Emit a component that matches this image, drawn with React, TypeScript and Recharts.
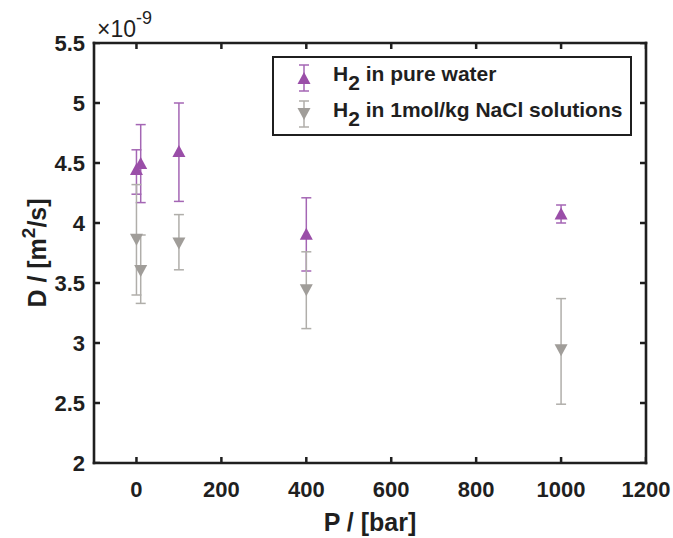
import { ScatterChart, Scatter, XAxis, YAxis, ErrorBar, Legend, ReferenceLine } from 'recharts'

const pressure = [0, 10, 100, 400, 1000]
const pureD = [4.45, 4.5, 4.6, 3.91, 4.08]
const pureErrLow = [0.21, 0.33, 0.42, 0.31, 0.08]
const pureErrHigh = [0.16, 0.32, 0.4, 0.3, 0.07]
const naclD = [3.86, 3.6, 3.83, 3.44, 2.94]
const naclErrLow = [0.46, 0.27, 0.22, 0.32, 0.45]
const naclErrHigh = [0.46, 0.3, 0.24, 0.32, 0.43]
const xTicks = [0, 200, 400, 600, 800, 1000, 1200]
const yTicks = [2, 2.5, 3, 3.5, 4, 4.5, 5, 5.5]
const xDomain = [-100, 1200]
const yDomain = [2, 5.5]

const PURPLE = '#9a4ea8'
const PURPLE_BAR = '#a466b4'
const GREY = '#a09d99'
const GREY_BAR = '#b0aeaa'
const INK = '#1f1f1f'
const FONT = '"Liberation Sans", Arial, Helvetica, sans-serif'

const pure = pressure.map((p, i) => ({ p, d: pureD[i], err: [pureErrLow[i], pureErrHigh[i]] }))
const nacl = pressure.map((p, i) => ({ p, d: naclD[i], err: [naclErrLow[i], naclErrHigh[i]] }))

// tick positions on the four sides of the box
const bottomTicks = xTicks.map(v => ({ p: v, d: yDomain[0] }))
const topTicks = xTicks.map(v => ({ p: v, d: yDomain[1] }))
const leftTicks = yTicks.map(v => ({ p: xDomain[0], d: v }))
const rightTicks = yTicks.map(v => ({ p: xDomain[1], d: v }))

const UpTri = (props: any) => {
  const { cx, cy, fill } = props
  return <polygon points={`${cx - 6.5},${cy + 6} ${cx + 6.5},${cy + 6} ${cx},${cy - 6}`} fill={fill} />
}
const DownTri = (props: any) => {
  const { cx, cy, fill } = props
  return <polygon points={`${cx - 6.5},${cy - 6} ${cx + 6.5},${cy - 6} ${cx},${cy + 6}`} fill={fill} />
}

// inward tick drawn as a thin filled rectangle
const tickMark = (dx: number, dy: number) => (props: any) => {
  const { cx, cy } = props
  const w = dx === 0 ? 2.5 : Math.abs(dx)
  const h = dy === 0 ? 2.5 : Math.abs(dy)
  const x = dx < 0 ? cx + dx : dx === 0 ? cx - 1.25 : cx
  const y = dy < 0 ? cy + dy : dy === 0 ? cy - 1.25 : cy
  return <rect x={x} y={y} width={w} height={h} fill={INK} />
}
const BoxSide = (props: any) => {
  const { x1, y1, x2, y2 } = props
  return <line x1={x1} y1={y1} x2={x2} y2={y2} stroke={INK} strokeWidth={2.6} strokeLinecap="square" />
}

function LeftTick(props: any) {
  const { x, y, payload } = props
  return (
    <text x={x} y={y} dy="0.36em" textAnchor="end" fill={INK} fontSize={22} fontWeight={700} fontFamily={FONT}>
      {String(payload.value)}
    </text>
  )
}
function BottomTick(props: any) {
  const { x, y, payload } = props
  return (
    <text x={x} y={y} dy="0.71em" textAnchor="middle" fill={INK} fontSize={22} fontWeight={700} fontFamily={FONT}>
      {String(payload.value)}
    </text>
  )
}

function YLabel(props: any) {
  const { x, y, width, height } = props.viewBox
  const cx = x + 37
  const cy = y + height / 2
  return (
    <g fontFamily={FONT} fontWeight={700} fill={INK}>
      <text x={cx} y={cy} transform={`rotate(-90, ${cx}, ${cy})`} textAnchor="middle" dominantBaseline="central" fontSize={25}>
        D / [m<tspan dy={-9} fontSize={19}>2</tspan><tspan dy={9}>/s]</tspan>
      </text>
      <text x={x + width + 3} y={y - 6} fontSize={23} fontWeight={400}>
        ×10<tspan dy={-13} fontSize={18}>-9</tspan>
      </text>
    </g>
  )
}

function XLabel(props: any) {
  const { x, y, width } = props.viewBox
  return (
    <text x={x + width / 2} y={y + 68} textAnchor="middle" fontFamily={FONT} fontWeight={700} fontSize={25} fill={INK}>
      P / [bar]
    </text>
  )
}

const legendItems = [
  { name: 'in pure water', color: PURPLE, bar: PURPLE_BAR, up: true },
  { name: 'in 1mol/kg NaCl solutions', color: GREY, bar: GREY_BAR, up: false },
]

function LegendBox() {
  return (
    <div style={{ width: 356, height: 74, border: `2px solid ${INK}`, background: '#fff', fontFamily: FONT, fontWeight: 700, fontSize: 21, color: INK, paddingTop: 2 }}>
      {legendItems.map(it => (
        <div key={it.name} style={{ display: 'flex', alignItems: 'center', height: 36 }}>
          <svg width={59} height={34} style={{ flex: 'none' }}>
            <line x1={30} x2={30} y1={4} y2={30} stroke={it.bar} strokeWidth={1.5} />
            <line x1={25} x2={35} y1={4} y2={4} stroke={it.bar} strokeWidth={1.5} />
            <line x1={25} x2={35} y1={30} y2={30} stroke={it.bar} strokeWidth={1.5} />
            {it.up
              ? <polygon points="23.5,23 36.5,23 30,11" fill={it.color} />
              : <polygon points="23.5,11 36.5,11 30,23" fill={it.color} />}
          </svg>
          <span style={{ whiteSpace: 'nowrap' }}>
            H<sub style={{ fontSize: 21, verticalAlign: -9 }}>2</sub> {it.name}
          </span>
        </div>
      ))}
    </div>
  )
}

export default function App() {
  return (
    <div style={{ position: 'absolute', left: 0, top: 0, width: 673, height: 538, background: '#fff' }}>
      <ScatterChart width={673} height={538} margin={{ top: 43, right: 27, bottom: 0, left: 0 }}>
        <XAxis xAxisId="b" dataKey="p" type="number" domain={xDomain} ticks={xTicks} height={75}
          allowDataOverflow tick={<BottomTick />} axisLine={false} tickLine={false}
          tickSize={0} tickMargin={18} label={<XLabel />} />
        <YAxis yAxisId="l" dataKey="d" type="number" domain={yDomain} ticks={yTicks} width={94}
          allowDataOverflow tick={<LeftTick />} axisLine={false} tickLine={false}
          tickSize={0} tickMargin={9} label={<YLabel />} />

        <ReferenceLine xAxisId="b" yAxisId="l" ifOverflow="visible" x={xDomain[0]} shape={BoxSide} />
        <ReferenceLine xAxisId="b" yAxisId="l" ifOverflow="visible" x={xDomain[1]} shape={BoxSide} />
        <ReferenceLine xAxisId="b" yAxisId="l" ifOverflow="visible" y={yDomain[0]} shape={BoxSide} />
        <ReferenceLine xAxisId="b" yAxisId="l" ifOverflow="visible" y={yDomain[1]} shape={BoxSide} />

        {/* inward ticks, MATLAB style */}
        <Scatter data={bottomTicks} xAxisId="b" yAxisId="l" shape={tickMark(0, -6)} isAnimationActive={false} legendType="none" />
        <Scatter data={topTicks} xAxisId="b" yAxisId="l" shape={tickMark(0, 6)} isAnimationActive={false} legendType="none" />
        <Scatter data={leftTicks} xAxisId="b" yAxisId="l" shape={tickMark(6, 0)} isAnimationActive={false} legendType="none" />
        <Scatter data={rightTicks} xAxisId="b" yAxisId="l" shape={tickMark(-6, 0)} isAnimationActive={false} legendType="none" />

        <Legend layout="horizontal" verticalAlign="middle" align="center"
          wrapperStyle={{ position: 'absolute', left: 272, top: 56, width: 360 }}
          content={() => <LegendBox />} />
        <Scatter name="pure" data={pure} xAxisId="b" yAxisId="l" fill={PURPLE} shape={UpTri} isAnimationActive={false}>
          <ErrorBar dataKey="err" direction="y" width={5} stroke={PURPLE_BAR} strokeWidth={1.5} />
        </Scatter>
        <Scatter name="nacl" data={nacl} xAxisId="b" yAxisId="l" fill={GREY} shape={DownTri} isAnimationActive={false}>
          <ErrorBar dataKey="err" direction="y" width={5} stroke={GREY_BAR} strokeWidth={1.5} />
        </Scatter>
      </ScatterChart>
    </div>
  )
}
